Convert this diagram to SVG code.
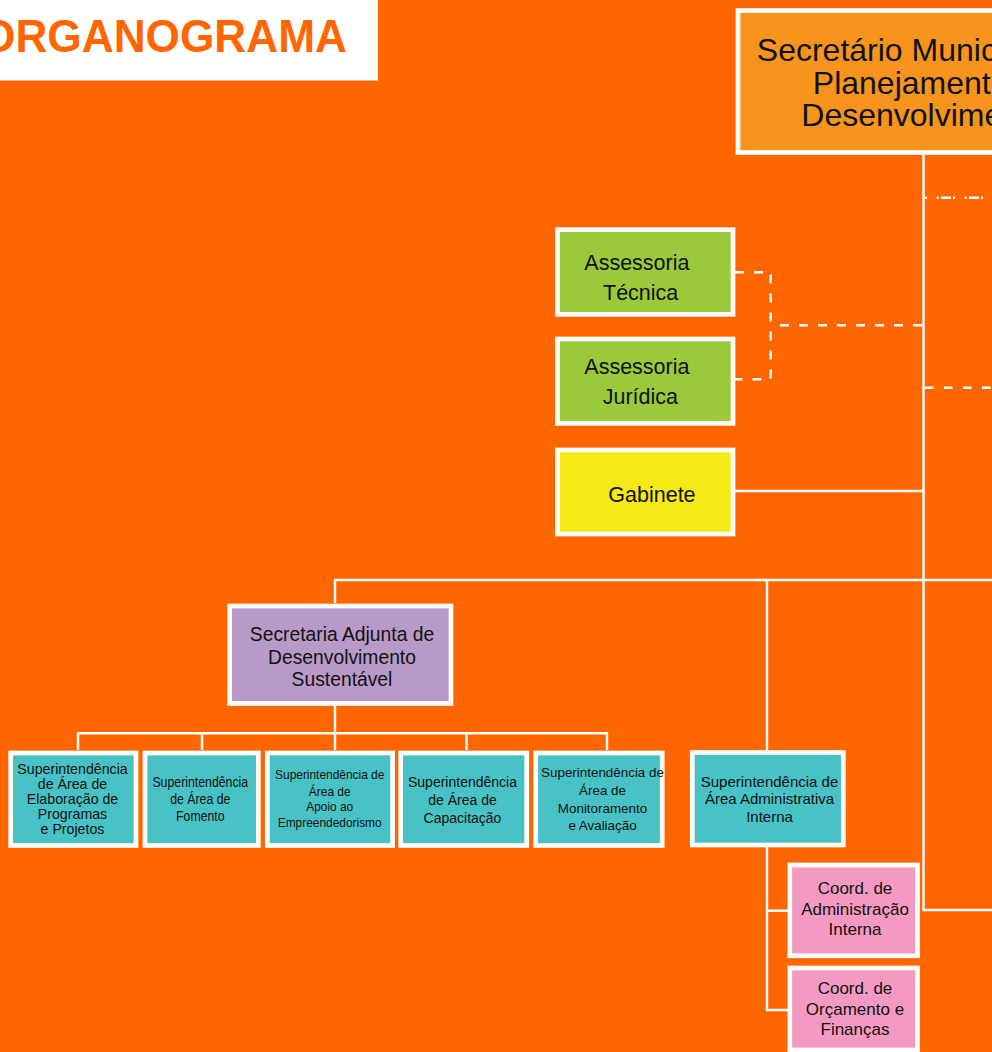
<svg xmlns="http://www.w3.org/2000/svg" width="992" height="1052" viewBox="0 0 992 1052">
<style>
.box{stroke:#fff;stroke-width:4.7}
.conn{stroke:#fff;stroke-width:2.4;fill:none}
.dash{stroke-dasharray:9 10}
.t{font-family:"Liberation Sans",Arial,sans-serif;fill:#111;text-anchor:middle}
.l{font-family:"Liberation Sans",Arial,sans-serif;fill:#111}
.top{fill:#F7941D}
.green{fill:#9ACA3C}
.yellow{fill:#F5E916}
.purple{fill:#B79AC8}
.teal{fill:#48C2C5}
.pink{fill:#F49AC1}
</style>
<rect x="0" y="0" width="992" height="1052" fill="#FF6600"/>
<g id="title">
<rect x="0" y="0" width="378" height="80.5" fill="#fff"/>
<text x="-19" y="52.3" font-family="'Liberation Sans',Arial,sans-serif" font-weight="bold" font-size="47" fill="#FF6600" textLength="366" lengthAdjust="spacingAndGlyphs">ORGANOGRAMA</text>
</g>
<g id="connectors">
<path class="conn" d="M923.5 155V910H992"/>
<path class="conn" d="M925 197.7H992" stroke-dasharray="2 9.7 2 2.3 10 2"/>
<path class="conn" d="M925 387.7H992" stroke-dasharray="8.5 10.5"/>
<path class="conn dash" d="M735 272.3H770.7V379.3H735"/>
<path class="conn dash" d="M780 325.3H923"/>
<path class="conn" d="M735 491H923.5"/>
<path class="conn" d="M335 603V580H992"/>
<path class="conn" d="M767 580V750"/>
<path class="conn" d="M335 705V750"/>
<path class="conn" d="M78 750V733.3H607V750M202 733.3V750M466.5 733.3V750"/>
<path class="conn" d="M767 847V1010H788M767 910.7H788"/>
</g>
<g id="secretario">
<rect class="box top" x="738" y="10.5" width="372" height="142"/>
<text class="t" x="924" y="61" font-size="32">Secretário Municipal de</text>
<text class="t" x="924" y="93.5" font-size="32">Planejamento e</text>
<text class="t" x="924" y="126" font-size="32">Desenvolvimento</text>
</g>
<g id="assessoria-tecnica">
<rect class="box green" x="557.5" y="229.7" width="175.5" height="84.6"/>
<text class="l" x="584.3" y="270" font-size="21.5">Assessoria</text>
<text class="l" x="603" y="300" font-size="21.5">Técnica</text>
</g>
<g id="assessoria-juridica">
<rect class="box green" x="557.5" y="339" width="175.5" height="84.4"/>
<text class="l" x="584.3" y="374.3" font-size="21.5">Assessoria</text>
<text class="l" x="602.7" y="404.3" font-size="21.5">Jurídica</text>
</g>
<g id="gabinete">
<rect class="box yellow" x="557.5" y="450" width="175.5" height="84"/>
<text class="l" x="608.3" y="501.7" font-size="21.5">Gabinete</text>
</g>
<g id="secretaria-adjunta">
<rect class="box purple" x="229.7" y="606" width="221.3" height="97.5"/>
<text class="t" x="342" y="641" font-size="19.3">Secretaria Adjunta de</text>
<text class="t" x="342" y="663.5" font-size="19.3">Desenvolvimento</text>
<text class="t" x="342" y="686" font-size="19.3">Sustentável</text>
</g>
<g id="sup-elaboracao">
<rect class="box teal" x="10.7" y="753" width="125.3" height="92.5"/>
<text class="t" x="72.5" y="774" font-size="14.2">Superintendência</text>
<text class="t" x="72.5" y="789" font-size="14.2">de Área de</text>
<text class="t" x="72.5" y="804" font-size="14.2">Elaboração de</text>
<text class="t" x="72.5" y="819" font-size="14.2">Programas</text>
<text class="t" x="72.5" y="834" font-size="14.2">e Projetos</text>
</g>
<g id="sup-fomento">
<rect class="box teal" x="145" y="753" width="113.3" height="92.5"/>
<g transform="translate(200.3 0) scale(0.85 1)">
<text class="t" x="0" y="787.5" font-size="14.5">Superintendência</text>
<text class="t" x="0" y="804.5" font-size="14.5">de Área de</text>
<text class="t" x="0" y="821.5" font-size="14.5">Fomento</text>
</g>
</g>
<g id="sup-empreendedorismo">
<rect class="box teal" x="267.3" y="753" width="125.3" height="92.5"/>
<g transform="translate(329.7 0) scale(0.883 1)">
<text class="t" x="0" y="779.3" font-size="13.5">Superintendência de</text>
<text class="t" x="0" y="795.7" font-size="13.5">Área de</text>
<text class="t" x="0" y="811" font-size="13.5">Apoio ao</text>
<text class="t" x="0" y="827.3" font-size="13.5">Empreendedorismo</text>
</g>
</g>
<g id="sup-capacitacao">
<rect class="box teal" x="400.7" y="753" width="126" height="92.5"/>
<text class="t" x="462.5" y="787.3" font-size="14">Superintendência</text>
<text class="t" x="462.5" y="805" font-size="14">de Área de</text>
<text class="t" x="462.5" y="822.7" font-size="14">Capacitação</text>
</g>
<g id="sup-monitoramento">
<rect class="box teal" x="535.7" y="753" width="126.5" height="92.5"/>
<text class="t" x="602.5" y="777.3" font-size="13.4">Superintendência de</text>
<text class="t" x="602.5" y="795" font-size="13.4">Área de</text>
<text class="t" x="602.5" y="812.7" font-size="13.4">Monitoramento</text>
<text class="t" x="602.5" y="830" font-size="13.4">e Avaliação</text>
</g>
<g id="sup-administrativa">
<rect class="box teal" x="692.3" y="752.5" width="151" height="92.5"/>
<text class="t" x="769.5" y="786.7" font-size="15">Superintendência de</text>
<text class="t" x="769.5" y="804" font-size="15">Área Administrativa</text>
<text class="t" x="769.5" y="821.7" font-size="15">Interna</text>
</g>
<g id="coord-administracao">
<rect class="box pink" x="789.8" y="865" width="127.7" height="90.8"/>
<text class="t" x="855" y="894" font-size="17">Coord. de</text>
<text class="t" x="855" y="914.5" font-size="17">Administração</text>
<text class="t" x="855" y="934.5" font-size="17">Interna</text>
</g>
<g id="coord-orcamento">
<rect class="box pink" x="789.8" y="968" width="127.7" height="82"/>
<text class="t" x="855" y="994" font-size="17">Coord. de</text>
<text class="t" x="855" y="1015" font-size="17">Orçamento e</text>
<text class="t" x="855" y="1034.5" font-size="17">Finanças</text>
</g>
</svg>
